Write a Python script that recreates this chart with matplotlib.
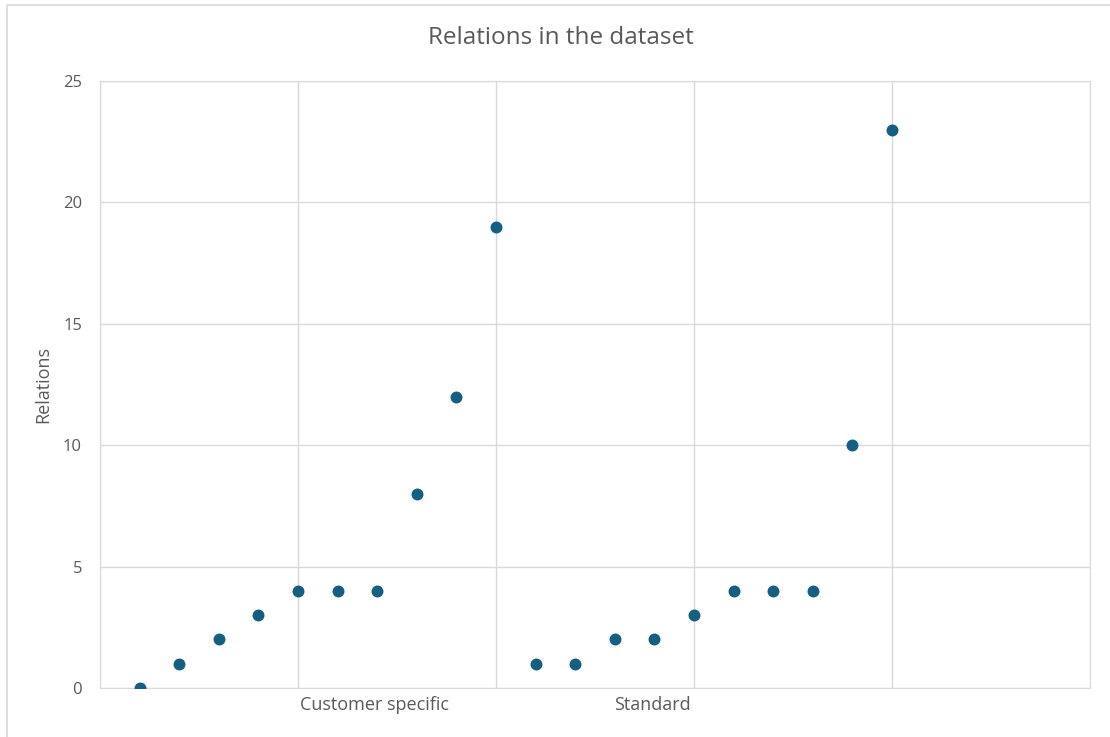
import matplotlib
matplotlib.use("Agg")
import matplotlib.pyplot as plt
from matplotlib.patches import Rectangle

# relation counts per item, first the customer specific ones, then the standard ones
item_index = list(range(1, 21))
relations = [0, 1, 2, 3, 4, 4, 4, 8, 12, 19,
             1, 1, 2, 2, 3, 4, 4, 4, 10, 23]
group_names = ["Customer specific", "Standard"]
group_label_x = [6.93, 13.95]

text_color = "#595959"
grid_color = "#d9d9d9"
dot_color = "#156082"

plt.rcParams["font.family"] = ["Open Sans", "DejaVu Sans"]

fig = plt.figure(figsize=(11.1, 7.37), dpi=100)
ax = fig.add_axes([100 / 1110, 1 - 688 / 737, 990 / 1110, 607 / 737])

# light frame around the whole chart area
fig.patches.append(Rectangle((7 / 1110, -0.1), 1.2, 1 - 5 / 737 + 0.1,
                             transform=fig.transFigure, fill=False,
                             edgecolor="#d9d9d9", linewidth=1.2, zorder=0))

ax.scatter(item_index, relations, s=74, color=dot_color, zorder=3, linewidths=0)

ax.set_xlim(0, 25)
ax.set_ylim(0, 25)
ax.set_xticks([0, 5, 10, 15, 20, 25])
ax.set_yticks([0, 5, 10, 15, 20, 25])
ax.set_xticklabels([])
ax.grid(True, color=grid_color, linewidth=1)
ax.set_axisbelow(True)
ax.tick_params(axis="both", length=0, labelcolor=text_color, labelsize=12, pad=13)
for side in ax.spines.values():
    side.set_color(grid_color)

for name, xpos in zip(group_names, group_label_x):
    ax.text(xpos, -0.72, name, ha="center", va="center", fontsize=13, color=text_color)

ax.set_ylabel("Relations", fontsize=13, color=text_color)
ax.yaxis.set_label_coords(-0.048, 0.5)
fig.text(561 / 1110, 1 - 38 / 737, "Relations in the dataset", ha="center", va="center",
         fontsize=17.5, color=text_color)

fig.savefig("out.png", dpi=100)
